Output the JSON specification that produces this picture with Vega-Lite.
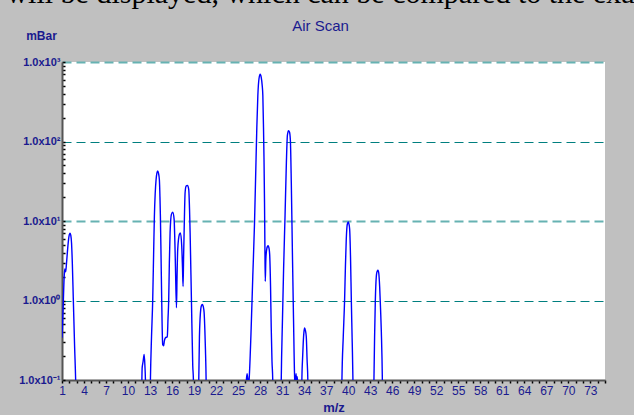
{
  "$schema": "https://vega.github.io/schema/vega-lite/v6.json",
  "autosize": "none",
  "width": 543,
  "height": 318,
  "padding": {"left": 62, "top": 62, "right": 29, "bottom": 35},
  "background": "#c0c0c0",
  "title": {
    "text": "will be displayed, which can be compared to the exa",
    "subtitle": "Air Scan",
    "anchor": "middle",
    "frame": "group",
    "font": "Liberation Serif",
    "fontSize": 30,
    "fontWeight": "normal",
    "color": "#000000",
    "subtitleFont": "Liberation Sans",
    "subtitleFontSize": 15,
    "subtitleColor": "#1a1a8f",
    "subtitlePadding": 10,
    "offset": -5,
    "dx": -13
  },
  "data": {
    "values": [
      {"mz": 1.0, "p": 0.34}, {"mz": 1.15, "p": 0.8}, {"mz": 1.3, "p": 2.0}, {"mz": 1.38, "p": 2.5}, {"mz": 1.5, "p": 2.3},
      {"mz": 1.62, "p": 3.0}, {"mz": 1.8, "p": 4.8}, {"mz": 1.95, "p": 6.4}, {"mz": 2.1, "p": 7.0}, {"mz": 2.2, "p": 6.6},
      {"mz": 2.3, "p": 5.3}, {"mz": 2.41, "p": 2.9}, {"mz": 2.54, "p": 1.05}, {"mz": 2.72, "p": 0.26}, {"mz": 2.86, "p": 0.1},
      {"mz": 3.0, "p": 0.02}, {"mz": 11.8, "p": 0.02}, {"mz": 11.88, "p": 0.09}, {"mz": 11.92, "p": 0.14}, {"mz": 12.05, "p": 0.17},
      {"mz": 12.2, "p": 0.21}, {"mz": 12.3, "p": 0.15}, {"mz": 12.37, "p": 0.1}, {"mz": 12.45, "p": 0.03}, {"mz": 12.95, "p": 0.02},
      {"mz": 13.05, "p": 0.1}, {"mz": 13.2, "p": 0.35}, {"mz": 13.36, "p": 1.0}, {"mz": 13.5, "p": 4.5}, {"mz": 13.59, "p": 11.5},
      {"mz": 13.7, "p": 22}, {"mz": 13.82, "p": 33}, {"mz": 13.93, "p": 40}, {"mz": 14.04, "p": 42.6}, {"mz": 14.15, "p": 40},
      {"mz": 14.27, "p": 33}, {"mz": 14.35, "p": 20}, {"mz": 14.41, "p": 11.5}, {"mz": 14.5, "p": 3.5}, {"mz": 14.59, "p": 1.0},
      {"mz": 14.72, "p": 0.28}, {"mz": 14.85, "p": 0.27}, {"mz": 14.95, "p": 0.31}, {"mz": 15.1, "p": 0.34}, {"mz": 15.35, "p": 0.35},
      {"mz": 15.45, "p": 0.6}, {"mz": 15.54, "p": 1.0}, {"mz": 15.63, "p": 3.0}, {"mz": 15.73, "p": 7.1}, {"mz": 15.91, "p": 12.1},
      {"mz": 16.09, "p": 12.9}, {"mz": 16.28, "p": 10.5}, {"mz": 16.38, "p": 5.5}, {"mz": 16.46, "p": 2.7}, {"mz": 16.6, "p": 0.81},
      {"mz": 16.68, "p": 2.0}, {"mz": 16.77, "p": 4.4}, {"mz": 17.0, "p": 6.8}, {"mz": 17.14, "p": 7.1}, {"mz": 17.32, "p": 4.8},
      {"mz": 17.42, "p": 2.6}, {"mz": 17.5, "p": 1.5}, {"mz": 17.57, "p": 3.5}, {"mz": 17.64, "p": 7.1}, {"mz": 17.78, "p": 23},
      {"mz": 17.92, "p": 27.5}, {"mz": 18.09, "p": 28}, {"mz": 18.27, "p": 25}, {"mz": 18.38, "p": 14}, {"mz": 18.46, "p": 7.1},
      {"mz": 18.64, "p": 1.0}, {"mz": 18.82, "p": 0.15}, {"mz": 18.91, "p": 0.1}, {"mz": 19.0, "p": 0.02}, {"mz": 19.55, "p": 0.02},
      {"mz": 19.64, "p": 0.1}, {"mz": 19.73, "p": 0.35}, {"mz": 19.82, "p": 0.6}, {"mz": 19.91, "p": 0.78}, {"mz": 20.02, "p": 0.87},
      {"mz": 20.14, "p": 0.89}, {"mz": 20.25, "p": 0.84}, {"mz": 20.37, "p": 0.7}, {"mz": 20.47, "p": 0.42}, {"mz": 20.55, "p": 0.24},
      {"mz": 20.64, "p": 0.1}, {"mz": 20.72, "p": 0.02}, {"mz": 26.0, "p": 0.02}, {"mz": 26.1, "p": 0.09}, {"mz": 26.22, "p": 0.12},
      {"mz": 26.33, "p": 0.1}, {"mz": 26.42, "p": 0.08}, {"mz": 26.5, "p": 0.1}, {"mz": 26.78, "p": 0.45}, {"mz": 27.0, "p": 2.0},
      {"mz": 27.23, "p": 9}, {"mz": 27.4, "p": 40}, {"mz": 27.55, "p": 150}, {"mz": 27.69, "p": 380}, {"mz": 27.85, "p": 620},
      {"mz": 28.01, "p": 700}, {"mz": 28.15, "p": 640}, {"mz": 28.29, "p": 500}, {"mz": 28.37, "p": 380}, {"mz": 28.46, "p": 150},
      {"mz": 28.53, "p": 60}, {"mz": 28.6, "p": 17}, {"mz": 28.65, "p": 5}, {"mz": 28.7, "p": 1.74}, {"mz": 28.78, "p": 3.3},
      {"mz": 28.88, "p": 4.3}, {"mz": 29.0, "p": 4.8}, {"mz": 29.1, "p": 4.9}, {"mz": 29.2, "p": 4.6}, {"mz": 29.3, "p": 3.8},
      {"mz": 29.42, "p": 1.5}, {"mz": 29.51, "p": 0.47}, {"mz": 29.62, "p": 0.17}, {"mz": 29.72, "p": 0.1}, {"mz": 29.8, "p": 0.02},
      {"mz": 30.8, "p": 0.02}, {"mz": 30.88, "p": 0.1}, {"mz": 31.05, "p": 0.6}, {"mz": 31.2, "p": 2.5}, {"mz": 31.4, "p": 12},
      {"mz": 31.58, "p": 55}, {"mz": 31.72, "p": 120}, {"mz": 31.87, "p": 137}, {"mz": 32.0, "p": 132}, {"mz": 32.12, "p": 105},
      {"mz": 32.25, "p": 30}, {"mz": 32.4, "p": 4}, {"mz": 32.55, "p": 0.6}, {"mz": 32.72, "p": 0.1}, {"mz": 32.8, "p": 0.09},
      {"mz": 32.9, "p": 0.12}, {"mz": 32.98, "p": 0.09}, {"mz": 33.06, "p": 0.11}, {"mz": 33.15, "p": 0.08}, {"mz": 33.25, "p": 0.02},
      {"mz": 33.6, "p": 0.02}, {"mz": 33.69, "p": 0.1}, {"mz": 33.8, "p": 0.2}, {"mz": 33.88, "p": 0.3}, {"mz": 33.97, "p": 0.4},
      {"mz": 34.06, "p": 0.45}, {"mz": 34.17, "p": 0.42}, {"mz": 34.29, "p": 0.35}, {"mz": 34.4, "p": 0.18}, {"mz": 34.5, "p": 0.1},
      {"mz": 34.58, "p": 0.02}, {"mz": 39.07, "p": 0.02}, {"mz": 39.15, "p": 0.1}, {"mz": 39.33, "p": 0.35}, {"mz": 39.51, "p": 1.0},
      {"mz": 39.63, "p": 2.8}, {"mz": 39.74, "p": 5.9}, {"mz": 39.88, "p": 9.1}, {"mz": 40.01, "p": 9.7}, {"mz": 40.1, "p": 9.2},
      {"mz": 40.2, "p": 7.9}, {"mz": 40.32, "p": 3.5}, {"mz": 40.43, "p": 1.0}, {"mz": 40.55, "p": 0.3}, {"mz": 40.65, "p": 0.1},
      {"mz": 40.73, "p": 0.02}, {"mz": 43.43, "p": 0.02}, {"mz": 43.51, "p": 0.1}, {"mz": 43.6, "p": 0.35}, {"mz": 43.7, "p": 1.0},
      {"mz": 43.88, "p": 2.2}, {"mz": 43.97, "p": 2.35}, {"mz": 44.06, "p": 2.4}, {"mz": 44.17, "p": 2.2}, {"mz": 44.29, "p": 1.5},
      {"mz": 44.42, "p": 0.75}, {"mz": 44.52, "p": 0.4}, {"mz": 44.66, "p": 0.1}, {"mz": 44.74, "p": 0.02}, {"mz": 75, "p": 0.02}
    ]
  },
  "mark": {"type": "line", "color": "#0000ff", "strokeWidth": 1.4, "clip": true, "interpolate": "monotone"},
  "encoding": {
    "x": {
      "field": "mz",
      "type": "quantitative",
      "scale": {"domain": [1, 75], "nice": false, "zero": false},
      "axis": {
        "title": "m/z",
        "values": [1,2,3,4,5,6,7,8,9,10,11,12,13,14,15,16,17,18,19,20,21,22,23,24,25,26,27,28,29,30,31,32,33,34,35,36,37,38,39,40,41,42,43,44,45,46,47,48,49,50,51,52,53,54,55,56,57,58,59,60,61,62,63,64,65,66,67,68,69,70,71,72,73,74,75],
        "format": "d",
        "labelExpr": "(datum.value - 1) % 3 == 0 ? datum.label : ''",
        "labelFlush": false,
        "labelOverlap": false,
        "labelFont": "Liberation Sans",
        "labelFontSize": 12,
        "labelColor": "#1a1a8f",
        "labelPadding": 2,
        "tickSize": 3,
        "tickWidth": 1.5,
        "tickColor": "#000000",
        "domainColor": "#555555",
        "domainWidth": 2,
        "grid": false,
        "titleFont": "Liberation Sans",
        "titleFontSize": 13,
        "titleFontWeight": "bold",
        "titleColor": "#1a1a8f",
        "titleBaseline": "alphabetic",
        "titleY": 31
      }
    },
    "y": {
      "field": "p",
      "type": "quantitative",
      "scale": {"type": "log", "domain": [0.1, 1000], "nice": false},
      "axis": {
        "title": "mBar",
        "titleAngle": 0,
        "titleAlign": "center",
        "titleBaseline": "alphabetic",
        "titleX": -21,
        "titleY": -23,
        "titleFont": "Liberation Sans",
        "titleFontSize": 12,
        "titleFontWeight": "bold",
        "titleColor": "#1a1a8f",
        "values": [0.1,0.2,0.3,0.4,0.5,0.6,0.7,0.8,0.9,1,2,3,4,5,6,7,8,9,10,20,30,40,50,60,70,80,90,100,200,300,400,500,600,700,800,900,1000],
        "labelExpr": "datum.value == 1000 ? '1.0x10³' : datum.value == 100 ? '1.0x10²' : datum.value == 10 ? '1.0x10¹' : datum.value == 1 ? '1.0x10⁰' : datum.value == 0.1 ? '1.0x10⁻¹' : ''",
        "labelOverlap": false,
        "labelFont": "Liberation Sans",
        "labelFontSize": 11,
        "labelFontWeight": "bold",
        "labelColor": "#1a1a8f",
        "labelPadding": 5,
        "tickSize": -3,
        "tickWidth": 1.5,
        "tickColor": "#000000",
        "domainColor": "#555555",
        "domainWidth": 2,
        "grid": true,
        "gridDash": [9, 5],
        "gridColor": {"condition": {"test": "datum.value == 1000 || datum.value == 10", "value": "#66b2b2"}, "value": "#007f7f"},
        "gridWidth": {"condition": {"test": "datum.value == 1000 || datum.value == 10", "value": 2}, "value": 1},
        "gridOpacity": {"condition": {"test": "datum.value == 1 || datum.value == 10 || datum.value == 100 || datum.value == 1000", "value": 1}, "value": 0}
      }
    }
  },
  "config": {
    "view": {"fill": "#ffffff", "stroke": null}
  }
}
